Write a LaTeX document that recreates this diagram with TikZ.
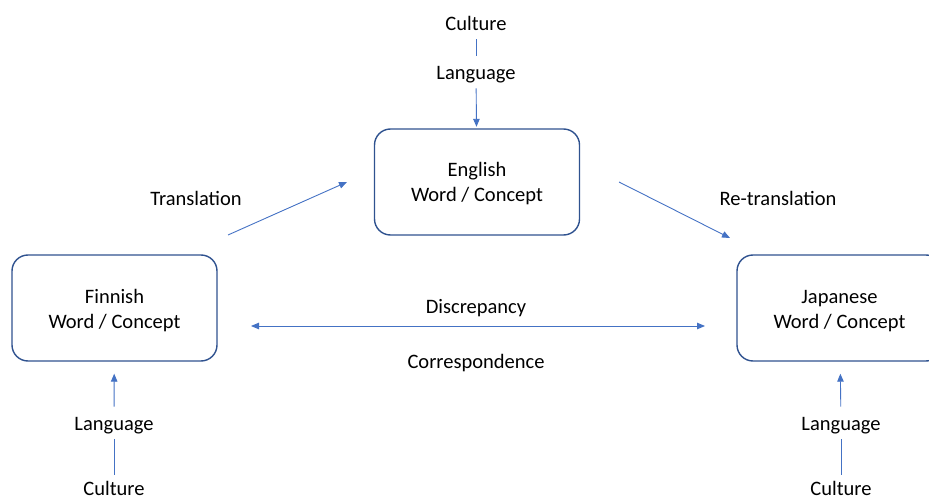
\documentclass[tikz,border=0pt]{standalone}
\usepackage{fontspec}
\setmainfont{Carlito}
\usetikzlibrary{arrows.meta}

\definecolor{boxblue}{HTML}{2F528F}
\definecolor{lineblue}{HTML}{4472C4}

% two-line box text, set a little lower in its box
\newcommand{\concepttext}[1]{\raisebox{-2.5pt}[\height][\depth]{\begin{tabular}{@{}c@{}}#1\\Word / Concept\end{tabular}}}

\begin{document}
\begin{tikzpicture}[x=1pt, y=-1pt,
    wordbox/.style={draw=boxblue, line width=1.4pt, rounded corners=16pt,
        minimum width=205pt, minimum height=106pt, inner sep=0pt,
        font=\fontsize{20.5}{25}\selectfont},
    label/.style={inner xsep=2pt, inner ysep=7pt, text height=16.75pt, text depth=1.75pt,
        font=\fontsize{20.5}{25}\selectfont},
    edgelabel/.style={label, inner ysep=0pt},
    link/.style={draw=lineblue, line width=0.9pt},
    tip/.style={-{Triangle[length=8pt,width=6.5pt]}}]
    \useasboundingbox (0,0) rectangle (929,497);
    \clip (0,0) rectangle (929,497);

    % Draw word / concept boxes
    \node[wordbox] (eng) at (477, 182) {\concepttext{English}};
    \node[wordbox] (fin) at (114.5, 308) {\concepttext{Finnish}};
    \node[wordbox] (jap) at (839.5, 308) {\concepttext{Japanese}};

    % Draw culture and language labels
    \node[label] (engcult) at (476, 23) {Culture};
    \node[label] (englang) at (476, 72) {Language};
    \node[label] (finlang) at (114, 423) {Language};
    \node[edgelabel] (fincult) at (114, 487.5) {Culture};
    \node[label] (japlang) at (841, 423) {Language};
    \node[edgelabel] (japcult) at (841, 487.5) {Culture};

    % Draw relation labels
    \node[label] (transl) at (196, 198) {Translation};
    \node[label] (retransl) at (778, 198) {Re-translation};
    \node[label] (discr) at (476, 306) {Discrepancy};
    \node[label] (corr) at (476, 361) {Correspondence};

    % Draw arrow end points
    \coordinate (tr1) at (228, 235);
    \coordinate (tr2) at (347, 182);
    \coordinate (re1) at (619, 182);
    \coordinate (re2) at (730, 238);
    \coordinate (d1) at (251, 326);
    \coordinate (d2) at (705, 326);

    % Draw culture lines
    \draw[link] (engcult) -- (englang);
    \draw[link, shorten <=3.25pt] (fincult) -- (finlang);
    \draw[link, shorten <=3.25pt] (japcult) -- (japlang);

    % Draw language arrows
    \draw[link, tip, shorten >=1.5pt] (englang) -- (eng);
    \draw[link, tip, shorten >=12pt] (finlang) -- (fin);
    \draw[link, tip, shorten >=12pt] (japlang) -- (jap);

    % Draw translation arrows
    \draw[link, tip] (tr1) -- (tr2);
    \draw[link, tip] (re1) -- (re2);
    \draw[link, {Triangle[length=8pt,width=6.5pt]}-{Triangle[length=8pt,width=6.5pt]}] (d1) -- (d2);
\end{tikzpicture}
\end{document}
